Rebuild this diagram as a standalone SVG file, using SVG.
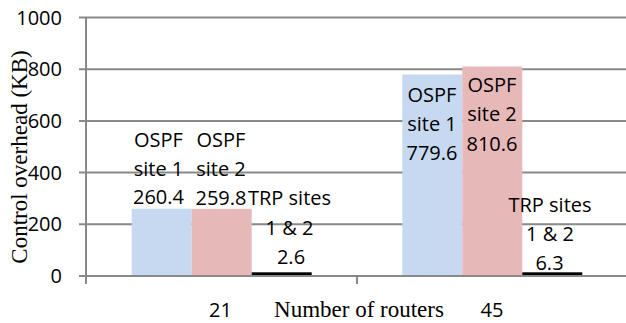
<svg xmlns="http://www.w3.org/2000/svg" width="626" height="323" viewBox="0 0 626 323">
<style>
.grid{stroke:#898989;stroke-width:2;fill:none}
.lbl{font-family:"Open Sans","Liberation Sans",sans-serif;font-size:20px;fill:#000;text-anchor:middle}
.tick{font-family:"Open Sans","Liberation Sans",sans-serif;font-size:20px;fill:#000;text-anchor:end}
.title{font-family:"Liberation Serif","Times New Roman",serif;font-size:23px;fill:#000;text-anchor:middle}
.s1{fill:#c6d9f1}
.s2{fill:#e6b9b8}
.s3{fill:#000}
</style>
<rect width="626" height="323" fill="#fff"/>
<g id="gridlines">
<line class="grid" x1="79" y1="17.5" x2="626" y2="17.5"/>
<line class="grid" x1="79" y1="69.2" x2="626" y2="69.2"/>
<line class="grid" x1="79" y1="120.9" x2="626" y2="120.9"/>
<line class="grid" x1="79" y1="172.6" x2="626" y2="172.6"/>
<line class="grid" x1="79" y1="224.3" x2="626" y2="224.3"/>
</g>
<g id="y-ticks">
<text class="tick" x="62" y="24.5">1000</text>
<text class="tick" x="62" y="76.2">800</text>
<text class="tick" x="62" y="127.9">600</text>
<text class="tick" x="62" y="179.6">400</text>
<text class="tick" x="62" y="231.3">200</text>
<text class="tick" x="62" y="283">0</text>
</g>
<g id="bars-21">
<rect class="s1" x="131.7" y="208.7" width="60" height="67.3"/>
<rect class="s2" x="191.7" y="208.8" width="60" height="67.2"/>
<rect class="s3" x="251.7" y="272.3" width="60" height="3.7"/>
</g>
<g id="bars-45">
<rect class="s1" x="402.3" y="74.5" width="60" height="201.5"/>
<rect class="s2" x="462.3" y="66.5" width="60" height="209.5"/>
<rect class="s3" x="522.3" y="272.3" width="60" height="3.7"/>
</g>
<g id="axes">
<line class="grid" x1="79" y1="276" x2="626" y2="276"/>
<line class="grid" x1="86" y1="17" x2="86" y2="284"/>
<line class="grid" x1="357" y1="276" x2="357" y2="284"/>
</g>
<g id="labels-21">
<text class="lbl" x="158.5" y="147">OSPF</text>
<text class="lbl" x="158.5" y="175.5">site 1</text>
<text class="lbl" x="158.5" y="204">260.4</text>
<text class="lbl" x="221" y="147">OSPF</text>
<text class="lbl" x="221" y="175.5">site 2</text>
<text class="lbl" x="221" y="204.5">259.8</text>
<text class="lbl" x="289.5" y="205">TRP sites</text>
<text class="lbl" x="289.5" y="234.5">1 &amp; 2</text>
<text class="lbl" x="291" y="264">2.6</text>
</g>
<g id="labels-45">
<text class="lbl" x="432" y="101.5">OSPF</text>
<text class="lbl" x="432" y="130.5">site 1</text>
<text class="lbl" x="432" y="160">779.6</text>
<text class="lbl" x="492" y="91.5">OSPF</text>
<text class="lbl" x="492" y="121">site 2</text>
<text class="lbl" x="492" y="150.5">810.6</text>
<text class="lbl" x="550" y="211.5">TRP sites</text>
<text class="lbl" x="550" y="241">1 &amp; 2</text>
<text class="lbl" x="549.5" y="270">6.3</text>
</g>
<g id="x-axis-labels">
<text class="lbl" x="220.5" y="317">21</text>
<text class="lbl" x="492" y="317">45</text>
<text class="title" x="359" y="317">Number of routers</text>
</g>
<text class="title" transform="translate(27,157) rotate(-90)">Control overhead (KB)</text>
</svg>
